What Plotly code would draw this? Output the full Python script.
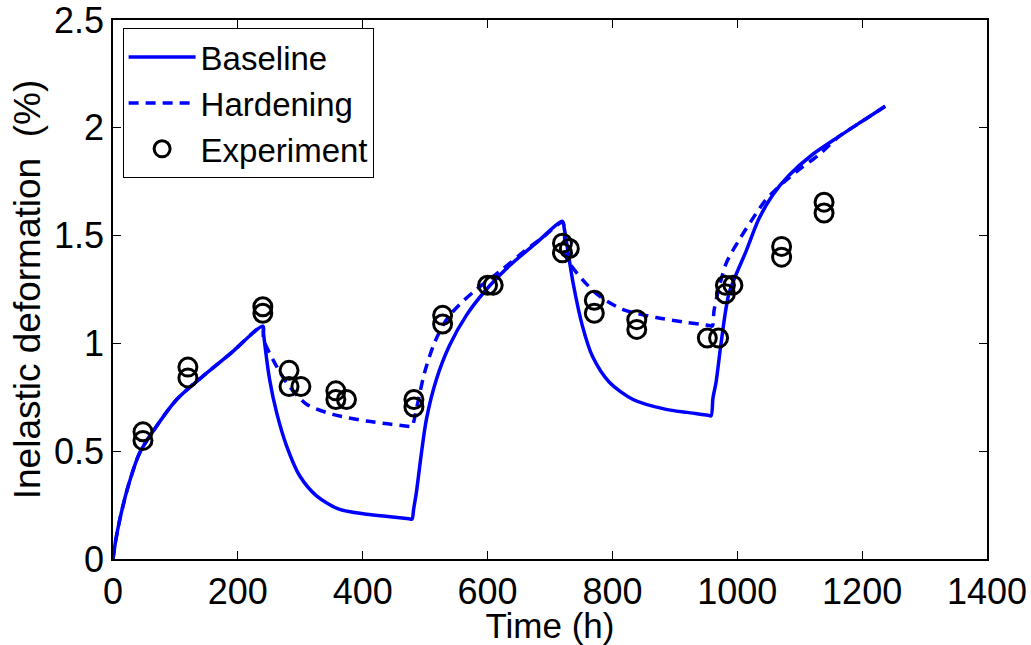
import plotly.graph_objects as go

# Baseline model
base_t = [0, 4, 11, 24.5, 43, 70, 102, 144.5, 187, 240,
          241, 251, 262, 278, 299, 326, 363, 406, 440, 474, 479,
          481.5, 486, 494, 502, 518, 539, 566, 598, 635, 678, 720,
          723, 737, 752, 768, 795, 833, 886, 920, 953, 958,
          961, 966, 974, 987, 1014, 1035, 1057, 1083, 1120, 1163, 1200, 1237]
base_y = [0, 0.08, 0.185, 0.34, 0.494, 0.617, 0.74, 0.849, 0.95, 1.08,
          1.05, 0.83, 0.68, 0.525, 0.386, 0.293, 0.23, 0.208, 0.197, 0.187, 0.185,
          0.23, 0.31, 0.49, 0.648, 0.833, 0.99, 1.13, 1.25, 1.36, 1.466, 1.566,
          1.53, 1.28, 1.08, 0.94, 0.82, 0.74, 0.694, 0.68, 0.667, 0.664,
          0.746, 0.82, 1.00, 1.235, 1.427, 1.58, 1.69, 1.78, 1.875, 1.96, 2.03, 2.10]

# Hardening model
hard_t = [0, 4, 11, 24.5, 43, 70, 102, 144.5, 187, 240,
          241, 256, 278, 310, 352, 406, 440, 475, 479,
          482, 486, 499, 515, 534, 555, 582, 620, 660, 690, 720,
          726, 752, 779, 817, 870, 913, 955, 960,
          963, 982, 1003, 1025, 1046, 1073, 1102, 1131, 1163, 1200, 1237]
hard_y = [0, 0.08, 0.185, 0.34, 0.494, 0.617, 0.74, 0.849, 0.95, 1.08,
          1.02, 0.926, 0.818, 0.718, 0.671, 0.64, 0.627, 0.614, 0.612,
          0.64, 0.694, 0.864, 1.003, 1.11, 1.18, 1.25, 1.335, 1.43, 1.495, 1.56,
          1.40, 1.296, 1.22, 1.157, 1.12, 1.10, 1.083, 1.08,
          1.157, 1.37, 1.48, 1.58, 1.667, 1.744, 1.813, 1.875, 1.96, 2.03, 2.10]

# Experiment
exp_t = [48, 48, 120, 120, 240, 240, 282, 282, 301, 357, 357, 374, 482, 482,
         528, 528, 600, 609, 720, 720, 731, 771, 771, 839, 839, 952, 970,
         981, 993, 981, 1071, 1071, 1139, 1139]
exp_y = [0.59, 0.55, 0.89, 0.84, 1.17, 1.14, 0.875, 0.80, 0.80, 0.78, 0.74, 0.74, 0.74, 0.705,
         1.13, 1.09, 1.27, 1.27, 1.465, 1.42, 1.44, 1.20, 1.14, 1.11, 1.065, 1.025, 1.025,
         1.27, 1.27, 1.23, 1.45, 1.40, 1.655, 1.605]

x_ticks = [0, 200, 400, 600, 800, 1000, 1200, 1400]
y_ticks = [0, 0.5, 1, 1.5, 2, 2.5]
y_labels = ["0", "0.5", "1", "1.5", "2", "2.5"]

FONT = "Liberation Sans, Arial, sans-serif"

fig = go.Figure()
fig.add_trace(go.Scatter(x=base_t, y=base_y, mode="lines", name="Baseline",
                         line=dict(color="#0000FF", width=3.5, shape="spline", smoothing=0.8)))
fig.add_trace(go.Scatter(x=hard_t, y=hard_y, mode="lines", name="Hardening",
                         line=dict(color="#0000FF", width=3.5, dash="10px,7px",
                                   shape="spline", smoothing=0.8)))
fig.add_trace(go.Scatter(x=exp_t, y=exp_y, mode="markers", name="Experiment",
                         marker=dict(symbol="circle-open", size=18, color="black",
                                     line=dict(color="black", width=3))))

axis_common = dict(showgrid=False, zeroline=False, showline=True, linecolor="black",
                   linewidth=1.5, mirror="ticks", ticks="inside", ticklen=8,
                   tickcolor="black", tickwidth=1, automargin=False,
                   ticklabeloverflow="allow",
                   tickfont=dict(family=FONT, size=36, color="black"))

fig.update_layout(
    width=1031, height=645,
    margin=dict(l=113, r=44, t=20, b=86),
    paper_bgcolor="white", plot_bgcolor="white",
    font=dict(family=FONT, color="black"),
    xaxis=dict(range=[0, 1400], tickvals=x_ticks, ticktext=[str(v) for v in x_ticks],
               title=dict(text="Time (h)", font=dict(family=FONT, size=35), standoff=0),
               **axis_common),
    yaxis=dict(range=[0, 2.5], tickvals=y_ticks, ticktext=y_labels,
               title=dict(text="Inelastic deformation  (%)", font=dict(family=FONT, size=37), standoff=2),
               **axis_common),
    legend=dict(x=0.011, y=0.985, xanchor="left", yanchor="top",
                bgcolor="white", bordercolor="black", borderwidth=1,
                font=dict(family=FONT, size=33, color="black"),
                itemwidth=67, tracegroupgap=0),
    showlegend=True,
)

fig.write_html("out.html", config={"displayModeBar": False},
               post_script="document.body.style.margin='0';document.body.style.overflow='hidden';")
